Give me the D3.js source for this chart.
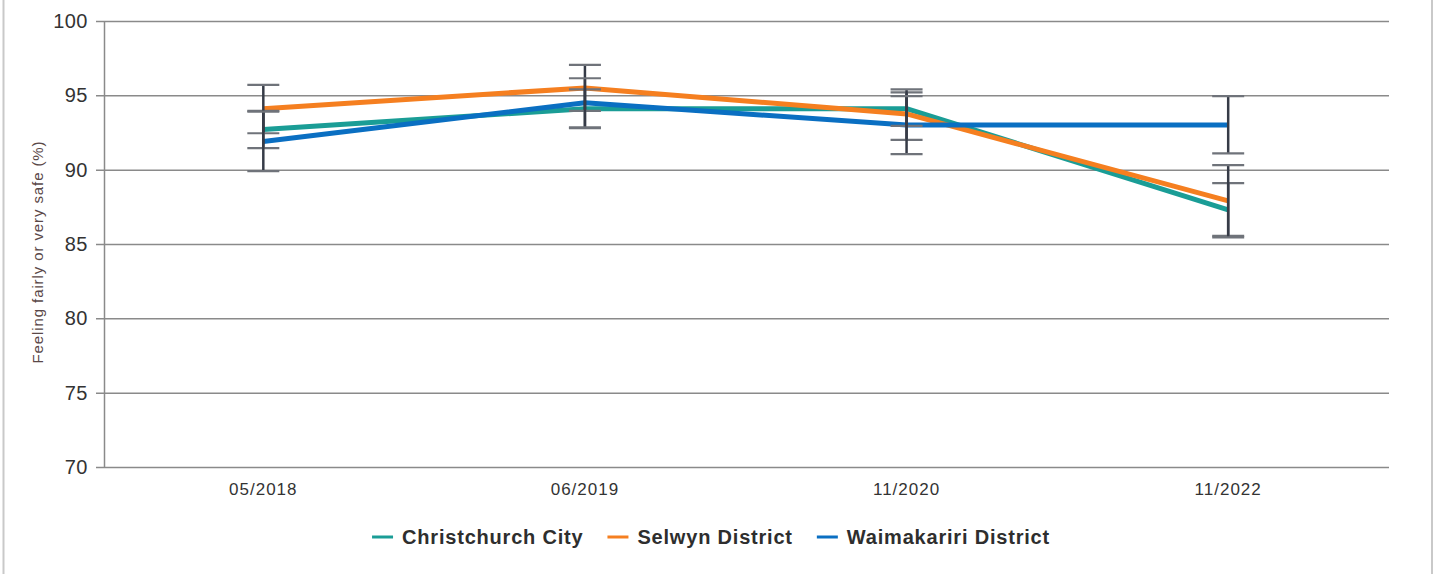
<!DOCTYPE html>
<html>
<head>
	<style type="text/css">
		body{ margin:0; background:#fff; }
		text{ font-family: "Liberation Sans", Arial, sans-serif; }
	</style>
	<title></title>
</head>
<body>
<div id="chart"></div>
<script src="https://d3js.org/d3.v7.min.js"></script>
<script type="text/javascript">
	// data
	var periods = ["05/2018", "06/2019", "11/2020", "11/2022"];
	var seriesNames = ["Christchurch City", "Selwyn District", "Waimakariri District"];
	var seriesColors = ["#1a9d96", "#f57f20", "#0a6fc2"];

	var christchurch = [92.7, 94.1, 94.1, 87.3];
	var christchurchLow = [91.45, 92.8, 92.95, 85.55];
	var christchurchHigh = [93.95, 95.4, 95.2, 89.1];

	var selwyn = [94.1, 95.5, 93.75, 87.9];
	var selwynLow = [92.45, 93.95, 92.0, 85.45];
	var selwynHigh = [95.7, 97.05, 95.4, 90.3];

	var waimakariri = [91.9, 94.5, 93.0, 93.0];
	var waimakaririLow = [89.9, 92.85, 91.05, 91.1];
	var waimakaririHigh = [93.9, 96.15, 94.95, 94.95];

	var yTicks = [70, 75, 80, 85, 90, 95, 100];

	var series = [
		{name: seriesNames[0], color: seriesColors[0], values: christchurch, low: christchurchLow, high: christchurchHigh},
		{name: seriesNames[1], color: seriesColors[1], values: selwyn, low: selwynLow, high: selwynHigh},
		{name: seriesNames[2], color: seriesColors[2], values: waimakariri, low: waimakaririLow, high: waimakaririHigh}
	];

	var width = 1437, height = 574;
	var plotLeft = 104.5, plotRight = 1389, plotTop = 21, plotBottom = 467;

	var svg = d3.select("#chart").append("svg")
		.attr("width", width)
		.attr("height", height);

	// outer frame (left / right edges)
	svg.append("line").attr("x1", 3.5).attr("x2", 3.5).attr("y1", 0).attr("y2", height)
		.style("stroke", "#c9c9c9").style("stroke-width", 2);
	svg.append("line").attr("x1", 1432).attr("x2", 1432).attr("y1", 0).attr("y2", height)
		.style("stroke", "#c9c9c9").style("stroke-width", 2);

	var x = d3.scalePoint()
		.domain(periods)
		.range([102.5, 1389])
		.padding(0.5);

	var y = d3.scaleLinear()
		.domain([70, 100])
		.range([plotBottom, plotTop]);

	//gridlines + y axis
	var yAxis = d3.axisLeft(y)
		.tickValues(yTicks)
		.tickSize(-(plotRight - 96))
		.tickPadding(8)
		.tickFormat(d3.format("d"));

	var gy = svg.append("g")
		.attr("transform", "translate(96,0)")
		.call(yAxis);
	gy.select(".domain").remove();
	gy.selectAll(".tick line")
		.style("stroke", "#8a8a8a")
		.style("stroke-width", 1.5);
	gy.selectAll(".tick text")
		.attr("font-size", "20px")
		.style("letter-spacing", "0.5px")
		.style("fill", "#333");

	svg.append("line")
		.attr("x1", plotLeft).attr("x2", plotLeft)
		.attr("y1", plotTop).attr("y2", plotBottom)
		.style("stroke", "#8a8a8a")
		.style("stroke-width", 1.5);

	// x labels
	svg.append("g").selectAll("text")
		.data(periods)
		.enter()
		.append("text")
		.attr("x", function(d){ return x(d); })
		.attr("y", 495)
		.attr("text-anchor", "middle")
		.attr("font-size", "17px")
		.style("letter-spacing", "1px")
		.style("fill", "#333")
		.text(function(d){ return d; });

	// y title
	svg.append("text")
		.attr("transform", "translate(43,252) rotate(-90)")
		.attr("text-anchor", "middle")
		.attr("font-size", "15px")
		.style("letter-spacing", "0.9px")
		.style("fill", "#5a4848")
		.text("Feeling fairly or very safe (%)");

	// lines
	var line = d3.line()
		.x(function(d, i){ return x(periods[i]); })
		.y(function(d){ return y(d); });

	svg.append("g").selectAll("path")
		.data(series)
		.enter()
		.append("path")
		.attr("d", function(d){ return line(d.values); })
		.style("fill", "none")
		.style("stroke", function(d){ return d.color; })
		.style("stroke-width", 5)
		.style("stroke-linejoin", "round");

	// error bars
	var bars = [];
	series.forEach(function(s){
		periods.forEach(function(p, i){
			bars.push({period: p, low: s.low[i], high: s.high[i]});
		});
	});

	var eb = svg.append("g").selectAll("g")
		.data(bars)
		.enter()
		.append("g");

	eb.append("line")
		.attr("x1", function(d){ return x(d.period); })
		.attr("x2", function(d){ return x(d.period); })
		.attr("y1", function(d){ return y(d.low); })
		.attr("y2", function(d){ return y(d.high); })
		.style("stroke", "#363b47")
		.style("stroke-width", 2.5);

	["low", "high"].forEach(function(k){
		eb.append("line")
			.attr("x1", function(d){ return x(d.period) - 16; })
			.attr("x2", function(d){ return x(d.period) + 16; })
			.attr("y1", function(d){ return y(d[k]); })
			.attr("y2", function(d){ return y(d[k]); })
			.style("stroke", "#6f737a")
			.style("stroke-width", 2.2);
	});

	// legend
	var legend = svg.append("g");
	var lx = 0;
	series.forEach(function(s){
		var item = legend.append("g").attr("transform", "translate(" + lx + ",0)");
		item.append("line")
			.attr("x1", 0).attr("x2", 21)
			.attr("y1", 0).attr("y2", 0)
			.style("stroke", s.color)
			.style("stroke-width", 3);
		var t = item.append("text")
			.attr("x", 30)
			.attr("y", 7)
			.attr("font-size", "20px")
			.attr("font-weight", "bold")
			.style("letter-spacing", "0.8px")
			.style("fill", "#2e2e2e")
			.text(s.name);
		lx += 30 + t.node().getComputedTextLength() + 24;
	});
	var legendWidth = lx - 24;
	legend.attr("transform", "translate(" + (711 - legendWidth / 2) + ",537)");
</script>
</body>
</html>
